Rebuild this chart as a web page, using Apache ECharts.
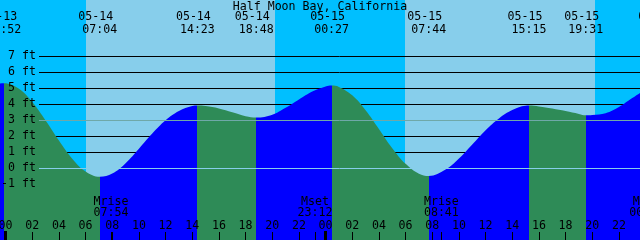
<!DOCTYPE html>
<html><head><meta charset="utf-8">
<script src="https://cdn.jsdelivr.net/npm/echarts@6/dist/echarts.min.js"></script>
<style>html,body{margin:0;padding:0;background:#fff}#c{width:640px;height:240px}</style>
</head><body><div id="c"></div>
<script>
// ---------------- data ----------------
const chartTitle = 'Half Moon Bay, California';
// tide extremes
const tideDates = ['05-13','05-14','05-14','05-14','05-15','05-15','05-15','05-15','05-16'];
const tideTimes = ['23:52','07:04','14:23','18:48','00:27','07:44','15:15','19:31','01:04'];
const tideKinds = ['high','low','high','low','high','low','high','low','high'];
// tide curve samples: hours since 05-14 00:00 and height in feet
const curveHours = [-1, -0.133, 1, 2, 3, 4, 5, 6, 7.067, 8, 9, 10, 11, 12, 13, 14, 14.383, 15, 16, 17, 18, 18.8,
  20, 21, 22, 23, 24, 24.45, 25, 26, 27, 28, 29, 30, 31, 31.733, 33, 34, 35, 36, 37, 38, 39, 39.25,
  40, 41, 42, 43, 43.517, 44, 45, 46, 47, 48, 49.07];
const curveFeet = [5.17, 5.3, 4.95, 4.12, 2.97, 1.72, 0.58, -0.22, -0.55, -0.35, 0.3, 1.2, 2.15, 2.98, 3.56, 3.87, 3.9, 3.87, 3.72, 3.48, 3.24, 3.15,
  3.33, 3.76, 4.28, 4.78, 5.1, 5.15, 5.07, 4.54, 3.61, 2.44, 1.24, 0.26, -0.36, -0.5, -0.1, 0.59, 1.47, 2.36, 3.1, 3.62, 3.89, 3.9,
  3.85, 3.72, 3.56, 3.38, 3.29, 3.31, 3.42, 3.81, 4.37, 4.86, 5.05];
// sun
const sunDates = ['05-14','05-14','05-15','05-15'];
const sunTimes = ['06:00','20:12','05:59','20:12'];
// moon
const moonNames = ['Mrise','Mset','Mrise','Mset'];
const moonDates = ['05-14','05-14','05-15','05-16'];
const moonTimes = ['07:54','23:12','08:41','00:05'];
// axes
const hourTicks = [0,2,4,6,8,10,12,14,16,18,20,22,24,26,28,30,32,34,36,38,40,42,44,46];
const hourLabels = ['00','02','04','06','08','10','12','14','16','18','20','22','00','02','04','06','08','10','12','14','16','18','20','22'];
const midnightTicks = [0, 24];
const depthTicks = [-1,0,1,2,3,4,5,6,7];
const depthLabels = ['-1 ft','0 ft','1 ft','2 ft','3 ft','4 ft','5 ft','6 ft','7 ft'];
const blackLines = [1,2,4,5,6,7];
const datumLine = [0];
const mslLine = [3];

// ---------------- styling ----------------
const NIGHT = '#00BFFF', DAY = '#87CEEB', RISE = '#0000FF', FALL = '#2E8B57';
const DATUM_COLOR = '#87CEEB', MSL_COLOR = '#6FA8A8';
const FAM = '"DejaVu Sans Mono", monospace';
const FS = 11.6;
const FONT = FS + 'px ' + FAM;
const xMin = -0.42, xMax = 47.58, yMin = -4.5, yMax = 10.5;
const LINE_START = 39;

function toHours(d, t) {
  const day = parseInt(d.slice(3), 10);
  const hh = parseInt(t.slice(0, 2), 10), mm = parseInt(t.slice(3), 10);
  return (day - 14) * 24 + hh + mm / 60;
}
const tideHours = tideDates.map((d, i) => toHours(d, tideTimes[i]));
const sunHours = sunDates.map((d, i) => toHours(d, sunTimes[i]));
const moonHours = moonDates.map((d, i) => toHours(d, moonTimes[i]));

// sky bands
const bounds = [xMin].concat(sunHours, [xMax]);
const skyData = [];
for (let i = 0; i < bounds.length - 1; i++) skyData.push([bounds[i], bounds[i + 1], i % 2 === 0 ? 0 : 1]);

// rising / falling pieces
const pieces = [{ lt: tideHours[0], color: tideKinds[0] === 'high' ? RISE : FALL }];
for (let i = 1; i < tideHours.length; i++) {
  pieces.push({ gte: tideHours[i - 1], lt: tideHours[i], color: tideKinds[i] === 'high' ? RISE : FALL });
}
pieces.push({ gte: tideHours[tideHours.length - 1], color: tideKinds[tideHours.length - 1] === 'high' ? FALL : RISE });

function hLine(color) {
  return function (params, api) {
    const cs = params.coordSys;
    const y = Math.round(api.coord([0, api.value(1)])[1]) + 0.5;
    return { type: 'line', shape: { x1: cs.x + LINE_START, y1: y, x2: cs.x + cs.width, y2: y },
      style: { stroke: color, lineWidth: 1 } };
  };
}

const baseX = {
  type: 'value', min: xMin, max: xMax, position: 'bottom', z: 10,
  axisLine: { show: false, onZero: false }, splitLine: { show: false }
};

const chart = echarts.init(document.getElementById('c'), null, { renderer: 'canvas' });
chart.setOption({
  animation: false,
  backgroundColor: '#fff',
  title: { text: chartTitle, left: 'center', top: 0, padding: [1, 0, 0, 0],
    textStyle: { fontFamily: FAM, fontSize: FS, fontWeight: 'normal', color: '#000' } },
  grid: { left: 0, right: 0, top: 0, bottom: 0, containLabel: false, outerBoundsMode: 'none' },
  visualMap: { type: 'piecewise', show: false, dimension: 0, seriesIndex: 2, pieces: pieces },
  xAxis: [
    Object.assign({}, baseX, {
      axisTick: { show: true, inside: true, length: 8, customValues: hourTicks, lineStyle: { color: '#000', width: 1 } },
      axisLabel: { show: true, inside: true, customValues: hourTicks, margin: 14, verticalAlign: 'middle',
        formatter: v => hourLabels[hourTicks.indexOf(v)], color: '#000', fontFamily: FAM, fontSize: FS } }),
    Object.assign({}, baseX, { axisLabel: { show: false },
      axisTick: { show: true, inside: true, length: 9, customValues: midnightTicks, lineStyle: { color: '#000', width: 3 } } }),
    Object.assign({}, baseX, { axisLabel: { show: false },
      axisTick: { show: true, inside: true, length: 8, customValues: moonHours, lineStyle: { color: '#000', width: 1 } } })
  ],
  yAxis: { type: 'value', min: yMin, max: yMax, position: 'left', z: 10,
    axisLine: { show: false, onZero: false }, splitLine: { show: false }, axisTick: { show: false },
    axisLabel: { show: true, inside: true, customValues: depthTicks, align: 'right', margin: 36, verticalAlign: 'middle',
      formatter: v => depthLabels[depthTicks.indexOf(v)], color: '#000', fontFamily: FAM, fontSize: FS } },
  series: [
    { type: 'custom', z: 0, silent: true, data: skyData, encode: { x: [0, 1] },
      renderItem: function (params, api) {
        const cs = params.coordSys;
        const x1 = Math.round(api.coord([api.value(0), 0])[0]);
        const x2 = Math.round(api.coord([api.value(1), 0])[0]);
        return { type: 'rect', shape: { x: x1, y: cs.y, width: x2 - x1, height: cs.height },
          style: { fill: api.value(2) === 0 ? NIGHT : DAY } };
      } },
    { type: 'custom', z: 1, silent: true, data: blackLines.map(v => [0, v]), renderItem: hLine('#000') },
    { type: 'line', z: 2, silent: true, data: curveHours.map((h, i) => [h, curveFeet[i]]),
      showSymbol: false, smooth: 0.4, lineStyle: { width: 0, opacity: 0 },
      areaStyle: { opacity: 1, origin: 'start' } },
    { type: 'custom', z: 3, silent: true, data: datumLine.map(v => [0, v]), renderItem: hLine(DATUM_COLOR) },
    { type: 'custom', z: 3, silent: true, data: mslLine.map(v => [0, v]), renderItem: hLine(MSL_COLOR) },
    { type: 'custom', z: 4, silent: true, data: tideHours.map((h, i) => [h, i]),
      renderItem: function (params, api) {
        const x = api.coord([api.value(0), 0])[0];
        const i = api.value(1);
        return { type: 'group', children: [
          { type: 'text', x: x - 4, y: 17, style: { text: tideDates[i], fill: '#000', font: FONT, align: 'center', verticalAlign: 'middle' } },
          { type: 'text', x: x, y: 29.5, style: { text: tideTimes[i], fill: '#000', font: FONT, align: 'center', verticalAlign: 'middle' } }
        ] };
      } },
    { type: 'custom', z: 4, silent: true, data: moonHours.map((h, i) => [h, i]),
      renderItem: function (params, api) {
        const x = api.coord([api.value(0), 0])[0];
        const i = api.value(1);
        return { type: 'group', children: [
          { type: 'text', x: x, y: 201.7, style: { text: moonNames[i], fill: '#000', font: FONT, align: 'center', verticalAlign: 'middle' } },
          { type: 'text', x: x, y: 213, style: { text: moonTimes[i], fill: '#000', font: FONT, align: 'center', verticalAlign: 'middle' } }
        ] };
      } }
  ]
});
</script></body></html>
